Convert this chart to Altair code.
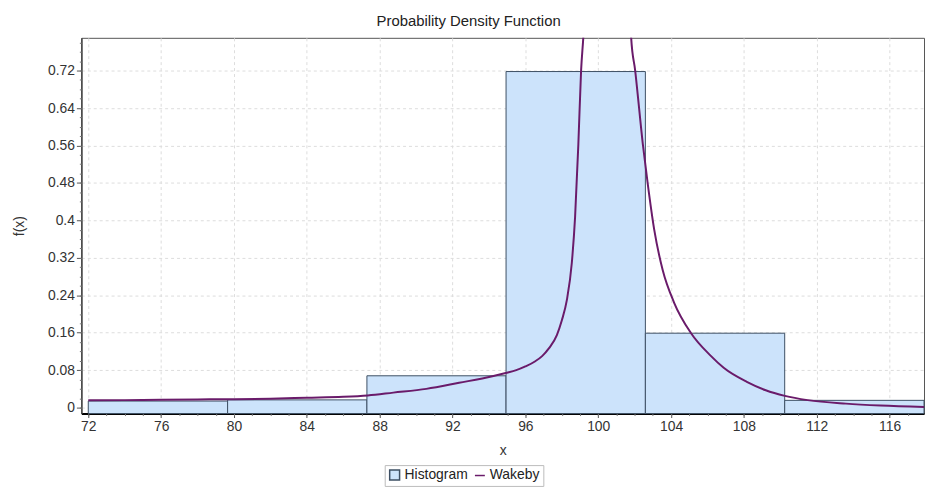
import altair as alt
import pandas as pd

# ---- data ----
bin_edges = [72.0, 79.65, 87.30, 94.94, 102.59, 110.24, 117.89]
bin_heights = [0.014, 0.0165, 0.068, 0.718, 0.159, 0.0155]

curve_x = [72.0, 74.0, 76.0, 78.0, 80.0, 82.0, 84.0, 86.0, 87.35, 88.75, 90.56,
           92.36, 94.19, 94.92, 95.5, 96.0, 96.5, 96.92, 97.3, 97.73, 98.0, 98.28,
           98.55, 98.73, 98.91, 99.06, 99.18, 99.5, 100.0, 100.6, 101.2, 101.6,
           101.81, 102.03, 102.45, 102.72, 103.08, 103.54, 104.17, 105.08, 106.17,
           106.89, 108.16, 109.2, 110.25, 111.5, 113.6, 115.5, 117.89]
curve_y = [0.0155, 0.016, 0.017, 0.0175, 0.018, 0.019, 0.021, 0.023, 0.026, 0.032,
           0.040, 0.053, 0.067, 0.074, 0.080, 0.088, 0.098, 0.110, 0.127, 0.155,
           0.186, 0.230, 0.309, 0.407, 0.563, 0.72, 0.79, 1.05, 1.30, 1.40, 1.25,
           1.00, 0.79, 0.72, 0.563, 0.478, 0.379, 0.294, 0.224, 0.160, 0.111,
           0.085, 0.055, 0.037, 0.025, 0.016, 0.0085, 0.0045, 0.0015]

series_names = ["Histogram", "Wakeby"]
x_ticks = [72, 76, 80, 84, 88, 92, 96, 100, 104, 108, 112, 116]
y_ticks = [0, 0.08, 0.16, 0.24, 0.32, 0.4, 0.48, 0.56, 0.64, 0.72]
x_minor = [float(v) for v in range(72, 118)]
y_minor = [round(i * 0.02, 2) for i in range(0, 40)]

X_DOMAIN = [71.62, 117.89]
Y_DOMAIN = [-0.0127, 0.79]

bars = pd.DataFrame({
    "start": bin_edges[:-1],
    "end": bin_edges[1:],
    "height": bin_heights,
    "base": [Y_DOMAIN[0]] * len(bin_heights),
    "series": ["Histogram"] * len(bin_heights),
})
curve = pd.DataFrame({"x": curve_x, "y": curve_y, "series": ["Wakeby"] * len(curve_x)})

FONT = "Liberation Sans"
xscale = alt.Scale(domain=X_DOMAIN, nice=False, zero=False)
yscale = alt.Scale(domain=Y_DOMAIN, nice=False, zero=False)

fill_scale = alt.Scale(domain=series_names, range=["#CCE3FB", "#CCE3FB"])
stroke_scale = alt.Scale(domain=series_names, range=["#3D4F63", "#6A1B6A"])

legend = alt.Legend(
    title=None, orient="none", legendX=306, legendY=431, direction="horizontal",
    strokeColor="#BBBBBB", padding=3, labelFont=FONT, labelFontSize=14,
    labelColor="#222222", symbolSize=100, columnPadding=4, labelOffset=3,
    symbolType={"expr": "datum.value == 'Wakeby' ? 'stroke' : 'square'"},
    symbolStrokeWidth=1.5,
)

x_axis = alt.Axis(values=x_ticks, labelExpr="format(datum.value, 'd')", title="x",
                  grid=True, gridColor="#DDDDDD", gridDash=[3, 3], tickSize=4,
                  labelPadding=2, titlePadding=10, domainColor="#000000",
                  domainWidth=2, tickColor="#555555")
y_axis = alt.Axis(values=y_ticks, labelExpr="format(datum.value, '.2~f')", title="f(x)",
                  grid=True, gridColor="#DDDDDD", gridDash=[3, 3], tickSize=5,
                  labelPadding=2, titlePadding=21, domainColor="#444444",
                  domainWidth=1.5, tickColor="#555555")

bar_layer = alt.Chart(bars).mark_bar(stroke="#3D4F63", strokeWidth=1).encode(
    x=alt.X("start:Q", scale=xscale, axis=x_axis),
    x2="end:Q",
    y=alt.Y("height:Q", scale=yscale, axis=y_axis),
    y2="base:Q",
    fill=alt.Fill("series:N", scale=fill_scale, legend=legend),
)

line_layer = alt.Chart(curve).mark_line(strokeWidth=2, clip=True, interpolate="monotone").encode(
    x=alt.X("x:Q", scale=xscale, axis=None),
    y=alt.Y("y:Q", scale=yscale, axis=None),
    stroke=alt.Stroke("series:N", scale=stroke_scale, legend=legend),
)

minor_layer = alt.Chart(bars).mark_point(opacity=0).encode(
    x=alt.X("start:Q", scale=xscale,
            axis=alt.Axis(values=x_minor, labels=False, grid=False, domain=False,
                          tickSize=2, orient="bottom", title=None, tickColor="#777777")),
    y=alt.Y("height:Q", scale=yscale,
            axis=alt.Axis(values=y_minor, labels=False, grid=False, domain=False,
                          tickSize=2, orient="left", title=None, tickColor="#777777")),
)

chart = alt.layer(bar_layer, line_layer, minor_layer).resolve_axis(
    x="independent", y="independent"
).properties(
    width=850, height=379,
    background="white",
    title=alt.TitleParams("Probability Density Function", font=FONT, fontSize=15,
                          fontWeight="normal", color="#222222", anchor="middle",
                          frame="bounds", offset=9),
    autosize=alt.AutoSizeParams(type="none"),
    padding={"left": 74, "top": 28, "right": 2, "bottom": 73},
).configure_axis(
    labelFont=FONT, labelFontSize=14, labelColor="#333333",
    titleFont=FONT, titleFontSize=14, titleFontWeight="normal", titleColor="#333333",
).configure_view(
    stroke="#555555", strokeWidth=1,
)

chart.save("out.html", embed_options={"renderer": "svg", "actions": False})
